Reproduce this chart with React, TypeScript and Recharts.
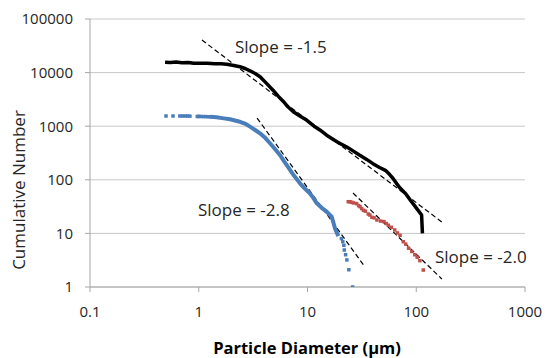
import React from 'react'
import { ComposedChart, Line, Scatter, XAxis, YAxis, CartesianGrid } from 'recharts'

// values: [diameter µm, cumulative number]
const blackCurve: [number, number][] = [
  [0.49, 15600], [0.55, 15500], [0.62, 15700], [0.7, 15300], [0.8, 15400], [0.9, 15000],
  [1.03, 14900], [1.2, 14900], [1.4, 14700], [1.6, 14600], [1.81, 14300], [2.1, 13600],
  [2.39, 12900], [2.7, 11800], [2.96, 10800], [3.3, 9600], [3.66, 8400], [4.2, 6300],
  [4.82, 4700], [5.4, 3600], [6.0, 2900], [6.6, 2300], [7.4, 1860], [8.5, 1550],
  [9.8, 1300], [11.5, 1000], [13, 850], [15, 680], [16.7, 590], [19, 500], [23, 410],
  [26, 350], [30, 290], [35, 240], [40, 200], [46, 170], [52, 150], [57, 125], [61, 107],
  [66, 85], [71, 70], [80, 55], [88, 42], [100, 30], [112, 22], [114, 10],
]

const blueHead: [number, number][] = [
  [0.5, 1550], [0.58, 1550], [0.67, 1550], [0.71, 1550], [0.75, 1550], [0.79, 1550],
  [0.83, 1540], [0.97, 1520], [1.0, 1520], [1.04, 1520], [1.1, 1510], [1.16, 1510],
  [1.22, 1500], [1.28, 1500],
]

const blueBody: [number, number][] = [
  [1.28, 1500], [1.46, 1470], [1.7, 1400], [1.94, 1345], [2.39, 1210], [2.7, 1100],
  [2.96, 980], [3.3, 850], [3.66, 736], [4.1, 600], [4.52, 480], [5.0, 380], [5.58, 290],
  [6.1, 220], [6.66, 170], [7.5, 120], [8.53, 86], [9.5, 68], [10.5, 56], [11.3, 46],
  [12.1, 37], [13.5, 30], [15, 25.4], [16.7, 20.5], [17.3, 16], [17.9, 12.4], [19.2, 8.9],
]

const blueTail: [number, number][] = [
  [20.5, 8], [21.1, 7], [21.6, 6], [21.8, 4.9], [22.4, 4], [23, 3.2], [24, 2.1], [26, 1],
]

const redPoints: [number, number][] = [
  [23.7, 39], [24.6, 39], [25.5, 38], [26.5, 37], [28.3, 36], [29.5, 33], [30.4, 31.5],
  [31.5, 29], [32.7, 27], [34, 26], [36.2, 23], [37.5, 22], [39.1, 20], [41, 19.5],
  [43.5, 17.8], [47, 17], [50.5, 16.6], [53, 15.3], [55.4, 14.2], [59, 13], [63.4, 11.6],
  [67, 10.2], [71, 9.2], [76, 7], [80, 6.3], [85, 5.3], [91, 4.6], [97, 4.0], [102, 3.6],
  [108, 3.1], [116, 2.07],
]

// fitted power-law lines (end points)
const slope15: [number, number][] = [[1.07, 40500], [172, 16.3]]
const slope28: [number, number][] = [[3.44, 1420], [33.8, 2.36]]
const slope20: [number, number][] = [[26.2, 56.8], [172, 1.41]]

const xTicks = [0.1, 1, 10, 100, 1000]
const yTicks = [1, 10, 100, 1000, 10000, 100000]

const toRows = (pts: [number, number][]) => pts.map(([x, y]) => ({ x, y }))

const square = (color: string, size: number) => (p: any) => (
  <rect x={p.cx - size / 2} y={p.cy - size / 2} width={size} height={size} fill={color} />
)

const FONT = '"Open Sans", sans-serif'
const tickStyle = { fontSize: 15, fill: '#262626', fontFamily: FONT }

const note = (text: string, left: number, cy: number) => (
  <div
    style={{
      position: 'absolute', left, top: cy - 11, lineHeight: '22px',
      fontSize: 17, color: '#262626', whiteSpace: 'nowrap',
    }}
  >
    {text}
  </div>
)

export default function App() {
  return (
    <div style={{ position: 'absolute', left: 0, top: 0, width: 548, height: 358, fontFamily: FONT, background: '#fff' }}>
      <ComposedChart width={548} height={358} margin={{ top: 19, right: 23, left: 30, bottom: 31 }}>
        <CartesianGrid vertical={false} stroke="#c8c8c8" />
        <XAxis
          dataKey="x"
          type="number"
          scale="log"
          domain={[0.1, 1000]}
          ticks={xTicks}
          allowDataOverflow
          height={40}
          stroke="#a6a6a6"
          tickSize={5}
          tickMargin={14}
          tick={tickStyle}
        />
        <YAxis
          dataKey="y"
          type="number"
          scale="log"
          domain={[1, 100000]}
          ticks={yTicks}
          allowDataOverflow
          width={60}
          stroke="#a6a6a6"
          tickSize={5}
          tickMargin={12}
          tick={tickStyle}
        />
        <Line data={toRows(slope15)} dataKey="y" stroke="#000" strokeWidth={1.2} strokeDasharray="5 3" dot={false} isAnimationActive={false} />
        <Line data={toRows(slope28)} dataKey="y" stroke="#000" strokeWidth={1.2} strokeDasharray="5 3" dot={false} isAnimationActive={false} />
        <Line data={toRows(slope20)} dataKey="y" stroke="#000" strokeWidth={1.2} strokeDasharray="5 3" dot={false} isAnimationActive={false} />
        <Line data={toRows(blackCurve)} dataKey="y" stroke="#000" strokeWidth={3.5} dot={false} strokeLinejoin="round" isAnimationActive={false} />
        <Line data={toRows(blueBody)} dataKey="y" stroke="#4a7ebb" strokeWidth={4} dot={false} strokeLinejoin="round" isAnimationActive={false} />
        <Scatter data={toRows(blueHead)} dataKey="y" shape={square('#4a7ebb', 3.5)} isAnimationActive={false} />
        <Scatter data={toRows(blueTail)} dataKey="y" shape={square('#4a7ebb', 3.5)} isAnimationActive={false} />
        <Scatter data={toRows(redPoints)} dataKey="y" shape={square('#c0504d', 3.5)} isAnimationActive={false} />
      </ComposedChart>
      {note('Slope = -1.5', 235, 47)}
      {note('Slope = -2.8', 198, 210)}
      {note('Slope = -2.0', 435, 257)}
      <div
        style={{
          position: 'absolute', left: 19 - 90, top: 190 - 11, width: 180, lineHeight: '22px',
          textAlign: 'center', fontSize: 17, color: '#262626', transform: 'rotate(-90deg)',
        }}
      >
        Cumulative Number
      </div>
      <div
        style={{
          position: 'absolute', left: 307 - 150, top: 348 - 9, width: 300, lineHeight: '18px',
          textAlign: 'center', fontSize: 16.5, fontWeight: 700, color: '#000',
        }}
      >
        Particle Diameter (µm)
      </div>
    </div>
  )
}
